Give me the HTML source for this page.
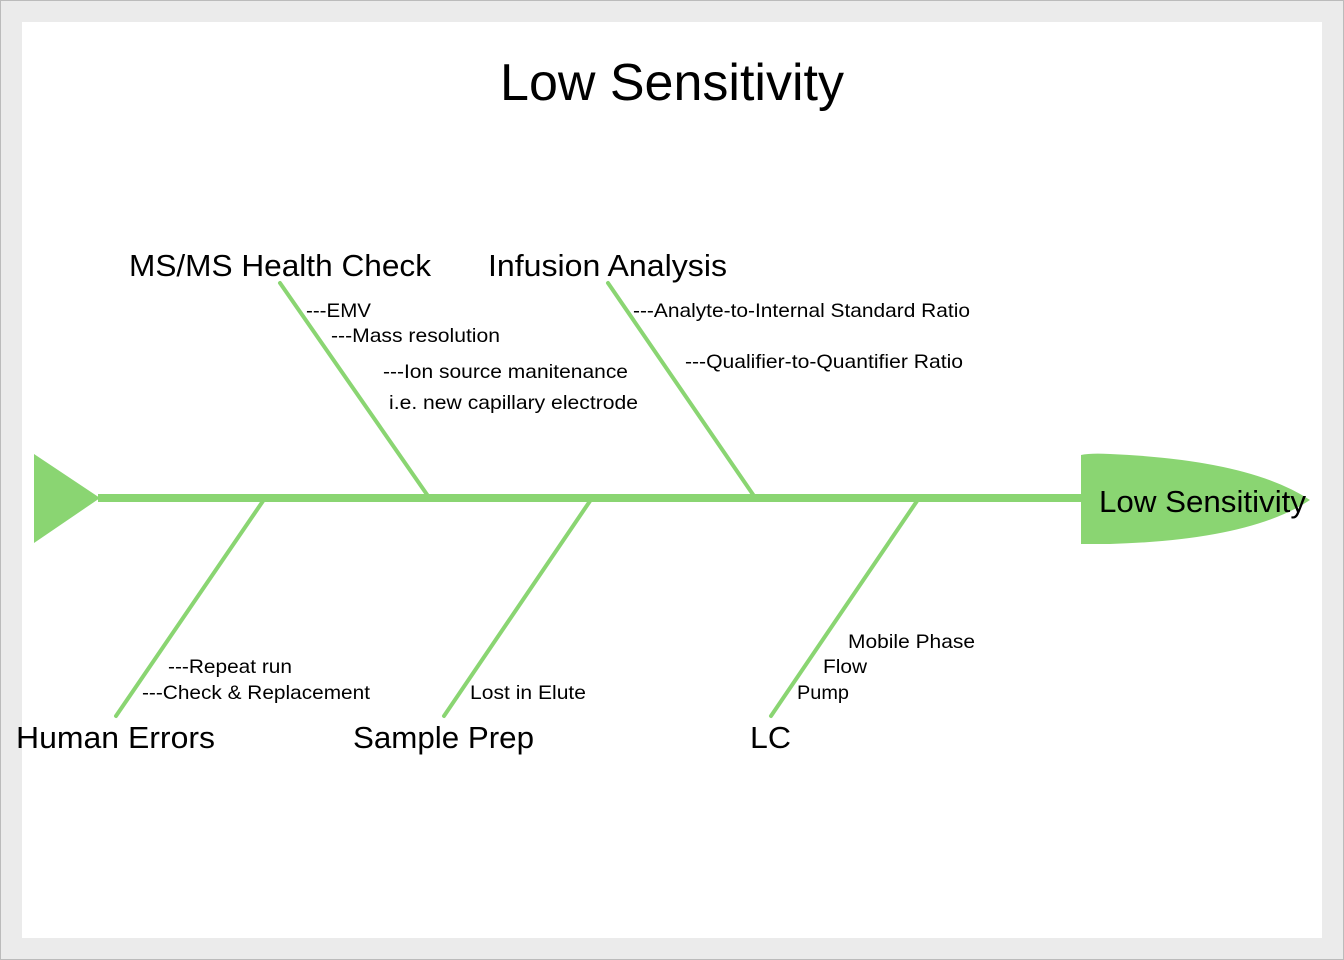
<!DOCTYPE html>
<html><head><style>
body{margin:0;width:1344px;height:960px;background:#ebebeb;font-family:"Liberation Sans",sans-serif;overflow:hidden}
.pg{position:absolute;left:22px;top:22px;width:1300px;height:916px;background:#fff}
.frame{position:absolute;left:0;top:0;width:1342px;height:958px;border:1px solid #bbb}
svg{position:absolute;left:0;top:0}
</style></head><body>
<div class="frame"></div>
<div class="pg"></div>
<svg width="1344" height="960" font-family="Liberation Sans, sans-serif">
<g stroke="#8ad572" stroke-width="4" stroke-linecap="round">
<line x1="280" y1="283" x2="428" y2="496"/>
<line x1="608" y1="283" x2="754" y2="496"/>
<line x1="263" y1="501" x2="116" y2="716"/>
<line x1="590" y1="501" x2="444" y2="716"/>
<line x1="917" y1="501" x2="771" y2="716"/>
</g>
<rect x="98" y="494" width="990" height="8" fill="#8ad572"/>
<polygon points="34,454 100,498 34,543" fill="#8ad572"/>
<path d="M1081,455 Q1090,453 1110,454 Q1250,460 1310,500 Q1250,540 1110,544 L1081,544 Z" fill="#8ad572"/>
<text x="672" y="100" font-size="52" text-anchor="middle">Low Sensitivity</text>
<text x="1099" y="512" font-size="31" textLength="207" lengthAdjust="spacingAndGlyphs">Low Sensitivity</text>
<g font-size="31">
<text x="129" y="276" textLength="302" lengthAdjust="spacingAndGlyphs">MS/MS Health Check</text>
<text x="488" y="276" textLength="239" lengthAdjust="spacingAndGlyphs">Infusion Analysis</text>
<text x="16" y="748" textLength="199" lengthAdjust="spacingAndGlyphs">Human Errors</text>
<text x="353" y="748" textLength="181" lengthAdjust="spacingAndGlyphs">Sample Prep</text>
<text x="750" y="748" textLength="41" lengthAdjust="spacingAndGlyphs">LC</text>
</g>
<g font-size="19.5">
<text x="306" y="317" textLength="65" lengthAdjust="spacingAndGlyphs">---EMV</text>
<text x="331" y="342" textLength="169" lengthAdjust="spacingAndGlyphs">---Mass resolution</text>
<text x="383" y="378" textLength="245" lengthAdjust="spacingAndGlyphs">---Ion source manitenance</text>
<text x="389" y="409" textLength="249" lengthAdjust="spacingAndGlyphs">i.e. new capillary electrode</text>
<text x="633" y="317" textLength="337" lengthAdjust="spacingAndGlyphs">---Analyte-to-Internal Standard Ratio</text>
<text x="685" y="368" textLength="278" lengthAdjust="spacingAndGlyphs">---Qualifier-to-Quantifier Ratio</text>
<text x="168" y="673" textLength="124" lengthAdjust="spacingAndGlyphs">---Repeat run</text>
<text x="142" y="699" textLength="228" lengthAdjust="spacingAndGlyphs">---Check &amp; Replacement</text>
<text x="470" y="699" textLength="116" lengthAdjust="spacingAndGlyphs">Lost in Elute</text>
<text x="848" y="648" textLength="127" lengthAdjust="spacingAndGlyphs">Mobile Phase</text>
<text x="823" y="673" textLength="44" lengthAdjust="spacingAndGlyphs">Flow</text>
<text x="797" y="699" textLength="52" lengthAdjust="spacingAndGlyphs">Pump</text>
</g>
</svg>
</body></html>
